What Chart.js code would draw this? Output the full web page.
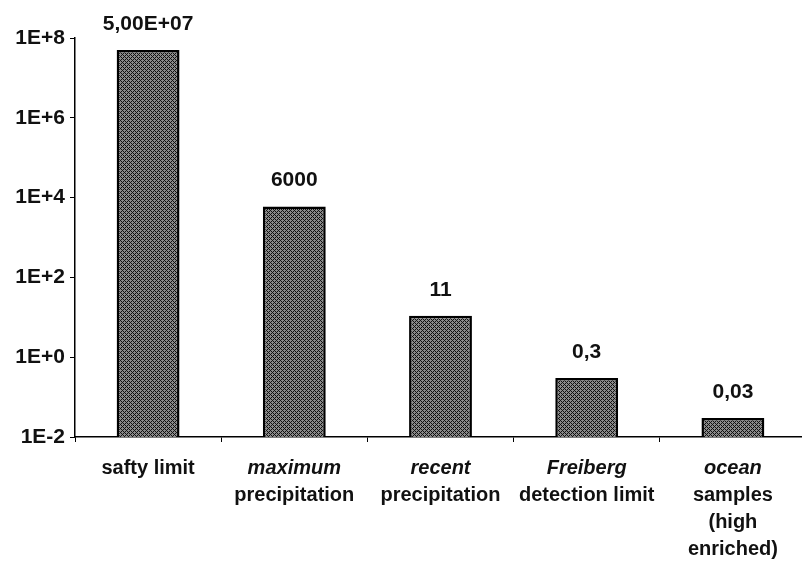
<!DOCTYPE html>
<html>
<head>
<meta charset="utf-8">
<script src="https://cdn.jsdelivr.net/npm/chart.js@4"></script>
<style>
  html,body{margin:0;padding:0;background:#fff;overflow:hidden;}
  canvas{display:block;}
</style>
</head>
<body>
<canvas id="c" width="806" height="564"></canvas>
<script>
/* ---------- data ---------- */
const categories  = [['safty limit'], ['maximum','precipitation'], ['recent','precipitation'],
                     ['Freiberg','detection limit'], ['ocean','samples','(high','enriched)']];
const italicFirst = [false, true, true, true, true];
const values      = [5e7, 6000, 11, 0.3, 0.03];
const valueLabels = ['5,00E+07', '6000', '11', '0,3', '0,03'];
const yTicks      = [1e-2, 1, 1e2, 1e4, 1e6, 1e8];
const yTickLabels = ['1E-2', '1E+0', '1E+2', '1E+4', '1E+6', '1E+8'];

const FONT = '"Liberation Sans", Arial, sans-serif';

/* ---------- dither pattern like the scanned bars ---------- */
function hatch(){
  const p = document.createElement('canvas'); p.width = p.height = 4;
  const g = p.getContext('2d');
  g.fillStyle = '#8a8a8a'; g.fillRect(0,0,4,4);
  g.fillStyle = '#111';
  for(let x=0;x<4;x++) for(let y=0;y<4;y++)
    if((x+y)%4===0 || ((x-y)+4)%4===0) g.fillRect(x,y,1,1);
  return g.createPattern(p,'repeat');
}

/* ---------- value labels over the bars + category labels ---------- */
const labelsPlugin = {
  id:'labels',
  afterDatasetsDraw(chart){
    const ctx = chart.ctx, meta = chart.getDatasetMeta(0), xs = chart.scales.x;
    ctx.save();
    ctx.fillStyle = '#111'; ctx.textAlign = 'center';
    ctx.font = 'bold 21px ' + FONT; ctx.textBaseline = 'alphabetic';
    meta.data.forEach((bar,i) => ctx.fillText(valueLabels[i], bar.x, bar.y - 20));
    ctx.textBaseline = 'middle';
    categories.forEach((lines,i) => {
      const x = xs.getPixelForValue(i);
      lines.forEach((t,j) => {
        ctx.font = (j===0 && italicFirst[i] ? 'italic ' : '') + 'bold 20px ' + FONT;
        ctx.fillText(t, x, xs.top + 31 + j*27);
      });
    });
    ctx.restore();
  }
};

new Chart(document.getElementById('c'), {
  type:'bar',
  data:{
    labels: categories.map(c => c.join(' ')),
    datasets:[{data: values, backgroundColor: hatch(), borderColor:'#000', borderWidth:2.5,
               barPercentage:0.43, categoryPercentage:1}]
  },
  options:{
    responsive:false, animation:false, devicePixelRatio:1,
    layout:{padding:{top:38, right:0, left:0, bottom:0}},
    plugins:{legend:{display:false}, tooltip:{enabled:false}},
    scales:{
      x:{
        ticks:{display:false},
        grid:{offset:true, drawOnChartArea:false, tickLength:5, color:'#000'},
        border:{color:'#000', width:1.5},
        afterFit: s => { s.height = 127; }
      },
      y:{
        type:'logarithmic', min:1e-2, max:1e8,
        afterBuildTicks: s => { s.ticks = yTicks.map(v => ({value:v})); },
        ticks:{color:'#111', font:{family:FONT, size:21, weight:'bold'}, padding:5,
               callback:(v,i) => yTickLabels[i]},
        grid:{drawOnChartArea:false, tickLength:5, color:'#000'},
        border:{color:'#000', width:1.5},
        afterFit: s => { s.width = 75; }
      }
    }
  },
  plugins:[labelsPlugin]
});
</script>
</body>
</html>
